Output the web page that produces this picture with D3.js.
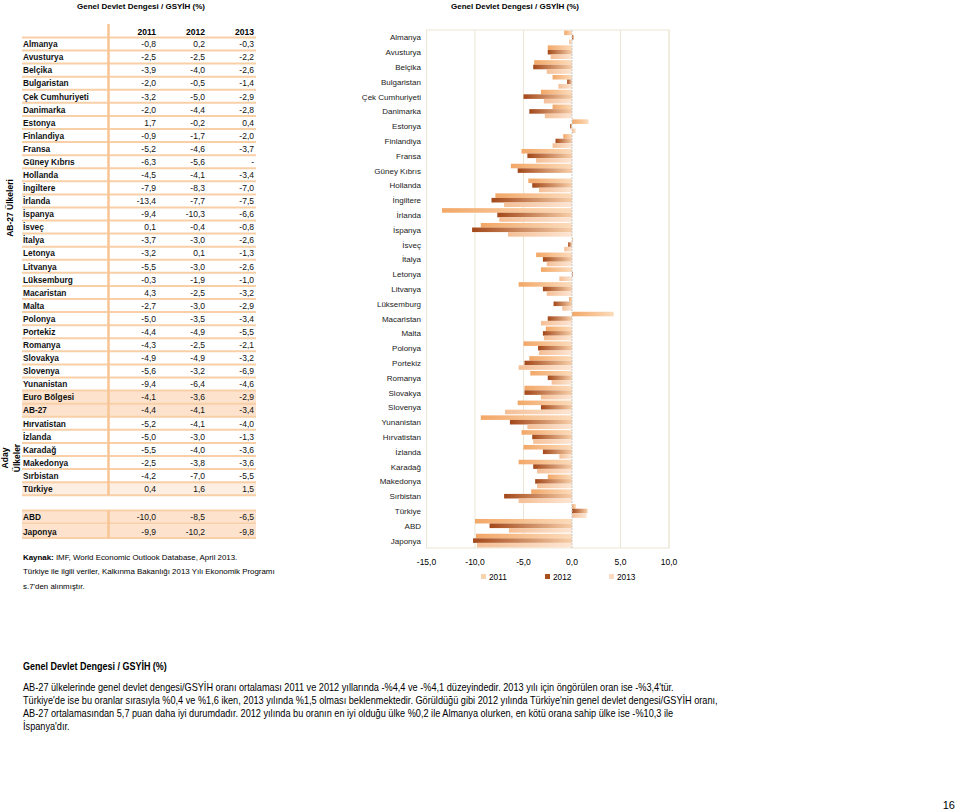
<!DOCTYPE html>
<html><head><meta charset="utf-8">
<script src="https://cdn.jsdelivr.net/npm/d3@7/dist/d3.min.js"></script>
<style>
body{margin:0;background:#fff;}
svg{display:block;font-family:"Liberation Sans",Arial,sans-serif;}
</style></head>
<body><svg id="c" width="960" height="810"></svg>
<script>
const titleText = "Genel Devlet Dengesi / GSYİH (%)";
const years = ["2011","2012","2013"];
const tableRows = ["Almanya","Avusturya","Belçika","Bulgaristan","Çek Cumhuriyeti","Danimarka","Estonya","Finlandiya","Fransa","Güney Kıbrıs","Hollanda","İngiltere","İrlanda","İspanya","İsveç","İtalya","Letonya","Litvanya","Lüksemburg","Macaristan","Malta","Polonya","Portekiz","Romanya","Slovakya","Slovenya","Yunanistan","Euro Bölgesi","AB-27","Hırvatistan","İzlanda","Karadağ","Makedonya","Sırbistan","Türkiye","ABD","Japonya"];
const v2011 = [-0.8,-2.5,-3.9,-2.0,-3.2,-2.0,1.7,-0.9,-5.2,-6.3,-4.5,-7.9,-13.4,-9.4,0.1,-3.7,-3.2,-5.5,-0.3,4.3,-2.7,-5.0,-4.4,-4.3,-4.9,-5.6,-9.4,-4.1,-4.4,-5.2,-5.0,-5.5,-2.5,-4.2,0.4,-10.0,-9.9];
const v2012 = [0.2,-2.5,-4.0,-0.5,-5.0,-4.4,-0.2,-1.7,-4.6,-5.6,-4.1,-8.3,-7.7,-10.3,-0.4,-3.0,0.1,-3.0,-1.9,-2.5,-3.0,-3.5,-4.9,-2.5,-4.9,-3.2,-6.4,-3.6,-4.1,-4.1,-3.0,-4.0,-3.8,-7.0,1.6,-8.5,-10.2];
const v2013 = [-0.3,-2.2,-2.6,-1.4,-2.9,-2.8,0.4,-2.0,-3.7,null,-3.4,-7.0,-7.5,-6.6,-0.8,-2.6,-1.3,-2.6,-1.0,-3.2,-2.9,-3.4,-5.5,-2.1,-3.2,-6.9,-4.6,-2.9,-3.4,-4.0,-1.3,-3.6,-3.6,-5.5,1.5,-6.5,-9.8];
const shadedRows = ["Euro Bölgesi","AB-27","Türkiye","ABD","Japonya"];
const excludedFromChart = ["Euro Bölgesi","AB-27"];
const xTicks = [-15,-10,-5,0,5,10];
const sourceLines = [["Kaynak:"," IMF, World Economic Outlook Database, April 2013."],["","Türkiye ile ilgili veriler, Kalkınma Bakanlığı 2013 Yılı Ekonomik Programı"],["","s.7'den alınmıştır."]];
const paragraph = ["AB-27 ülkelerinde genel devlet dengesi/GSYİH oranı ortalaması 2011 ve 2012 yıllarında -%4,4 ve -%4,1 düzeyindedir. 2013 yılı için öngörülen oran ise -%3,4'tür.",
"Türkiye'de ise bu oranlar sırasıyla %0,4 ve %1,6 iken, 2013 yılında %1,5 olması beklenmektedir. Görüldüğü gibi 2012 yılında Türkiye'nin genel devlet dengesi/GSYİH oranı,",
"AB-27 ortalamasından 5,7 puan daha iyi durumdadır. 2012 yılında bu oranın en iyi olduğu ülke %0,2 ile Almanya olurken, en kötü orana sahip ülke ise -%10,3 ile",
"İspanya'dır."];
const pageNumber = "16";

const series = [v2011, v2012, v2013];
const fmt = v => v === null ? "-" : d3.format(".1f")(v).replace(".", ",").replace("−","-");
const svg = d3.select("#c");

// gradients
const defs = svg.append("defs");
const grads = [["#f2a767","#fcdcbc"],["#a3481a","#f8cfa9"],["#f4bf96","#fde6d4"]];
grads.forEach((g,i)=>{
  const lg = defs.append("linearGradient").attr("id","g"+i).attr("x1","0").attr("x2","1").attr("y1","0").attr("y2","0");
  lg.append("stop").attr("offset","0").attr("stop-color",g[0]);
  lg.append("stop").attr("offset","1").attr("stop-color",g[1]);
});

// ===== TABLE =====
const tbl = svg.append("g");
tbl.append("text").attr("x",141).attr("y",9).attr("text-anchor","middle")
  .attr("font-size",8).attr("font-weight","bold").text(titleText);
const rowY = i => i < 35 ? 44 + i*13.08 : 517 + (i-35)*14.4;
const colX = [156,205,254];
const tL = 22, tR = 256;
tableRows.forEach((r,i)=>{
  if (shadedRows.includes(r)) {
    tbl.append("rect").attr("x",tL).attr("y",rowY(i)-6.5).attr("width",tR-tL).attr("height",13.08)
      .attr("fill", r==="Türkiye" ? "#fdeee2" : "#fde3cd");
  }
});
tbl.append("line").attr("x1",tL).attr("x2",tR).attr("y1",37.5).attr("y2",37.5).attr("stroke","#f9cfa8").attr("stroke-width",2);
tableRows.forEach((r,i)=>{
  tbl.append("line").attr("x1",tL).attr("x2",tR).attr("y1",rowY(i)+6.5).attr("y2",rowY(i)+6.5)
    .attr("stroke","#f9cfa8").attr("stroke-width",2);
});
tbl.append("line").attr("x1",tL).attr("x2",tR).attr("y1",rowY(35)-6.5).attr("y2",rowY(35)-6.5).attr("stroke","#f9cfa8").attr("stroke-width",2);
tbl.append("line").attr("x1",108.5).attr("x2",108.5).attr("y1",24).attr("y2",rowY(34)+6.5).attr("stroke","#f8c493").attr("stroke-width",2.5);
tbl.append("line").attr("x1",108.5).attr("x2",108.5).attr("y1",rowY(35)-6.5).attr("y2",rowY(36)+6.5).attr("stroke","#f8c493").attr("stroke-width",2.5);
years.forEach((y,j)=>tbl.append("text").attr("x",colX[j]).attr("y",34.5).attr("text-anchor","end")
  .attr("font-size",8.5).attr("font-weight","bold").text(y));
tableRows.forEach((r,i)=>{
  tbl.append("text").attr("x",23).attr("y",rowY(i)+3.2).attr("font-size",8.3).attr("font-weight","bold").attr("fill","#111").text(r);
  series.forEach((s,j)=>tbl.append("text").attr("x",colX[j]).attr("y",rowY(i)+3.2).attr("text-anchor","end")
    .attr("font-size",8.5).attr("fill","#111").text(fmt(s[i])));
});
tbl.append("text").attr("transform","translate(13,208) rotate(-90)").attr("text-anchor","middle")
  .attr("font-size",8.5).attr("font-weight","bold").text("AB-27 Ülkeleri");
tbl.append("text").attr("transform","translate(8,458) rotate(-90)").attr("text-anchor","middle")
  .attr("font-size",8.5).attr("font-weight","bold").text("Aday");
tbl.append("text").attr("transform","translate(20,458) rotate(-90)").attr("text-anchor","middle")
  .attr("font-size",8.5).attr("font-weight","bold").text("Ülkeler");
sourceLines.forEach((l,i)=>{
  const t = tbl.append("text").attr("x",23).attr("y",560+i*14.3).attr("font-size",7.9);
  if (l[0]) t.append("tspan").attr("font-weight","bold").text(l[0]);
  t.append("tspan").text(l[1]);
});

// ===== CHART =====
const cats = tableRows.filter(r=>!excludedFromChart.includes(r));
const data = cats.map(c=>{ const i = tableRows.indexOf(c); return {c, vals: series.map(s=>s[i])}; });
const x = d3.scaleLinear().domain([-15,10]).range([426.5,669]);
const y = d3.scaleBand().domain(cats).range([30,548]);
const yy = d3.scaleBand().domain(years).range([0,y.bandwidth()]).paddingOuter(0.12);
const ch = svg.append("g");
ch.append("text").attr("x",515).attr("y",9).attr("text-anchor","middle")
  .attr("font-size",8).attr("font-weight","bold").text(titleText);
ch.selectAll(".grid").data(xTicks.filter(t=>t!==0)).join("line")
  .attr("x1",d=>x(d)).attr("x2",d=>x(d)).attr("y1",30).attr("y2",548)
  .attr("stroke","#ebe6d3").attr("stroke-width",1);
ch.append("rect").attr("x",x(-15)).attr("y",30).attr("width",x(10)-x(-15)).attr("height",518)
  .attr("fill","none").attr("stroke","#ebe6d3").attr("stroke-width",1);
const bg = ch.selectAll(".cat").data(data).join("g").attr("transform",d=>`translate(0,${y(d.c)})`);
bg.selectAll("rect").data(d=>d.vals.map((v,j)=>({v,j})).filter(e=>e.v!==null)).join("rect")
  .attr("x",e=>x(Math.min(0,e.v))).attr("width",e=>Math.abs(x(e.v)-x(0)))
  .attr("y",e=>yy(years[e.j])).attr("height",yy.bandwidth())
  .attr("fill",e=>`url(#g${e.j})`);
ch.append("line").attr("x1",x(0)).attr("x2",x(0)).attr("y1",30).attr("y2",548)
  .attr("stroke","#c9c9c9").attr("stroke-width",1).attr("stroke-dasharray","2,1");
ch.selectAll(".yl").data(cats).join("text")
  .attr("x",421).attr("y",d=>y(d)+y.bandwidth()/2+3).attr("text-anchor","end")
  .attr("font-size",8).attr("fill","#222").text(d=>d);
ch.selectAll(".xl").data(xTicks).join("text")
  .attr("x",d=>x(d)).attr("y",565).attr("text-anchor","middle").attr("font-size",8.5)
  .text(d=>fmt(d));
const legCol = ["#f7d4ad","#a9501f","#fbdcc2"];
const lx = [481,545,609];
years.forEach((yr,j)=>{
  ch.append("rect").attr("x",lx[j]).attr("y",574).attr("width",5).attr("height",5).attr("fill",legCol[j]);
  ch.append("text").attr("x",lx[j]+8).attr("y",580).attr("font-size",8.3).text(yr);
});

// ===== BOTTOM TEXT =====
const bt = svg.append("g").attr("transform","translate(23,0) scale(0.9,1)");
bt.append("text").attr("x",0).attr("y",670).attr("font-size",10).attr("font-weight","bold").text(titleText);
paragraph.forEach((l,i)=>bt.append("text").attr("x",0).attr("y",691+i*13.1).attr("font-size",10.2).text(l));
svg.append("text").attr("x",955).attr("y",809).attr("text-anchor","end").attr("font-size",11).text(pageNumber);
</script></body></html>
